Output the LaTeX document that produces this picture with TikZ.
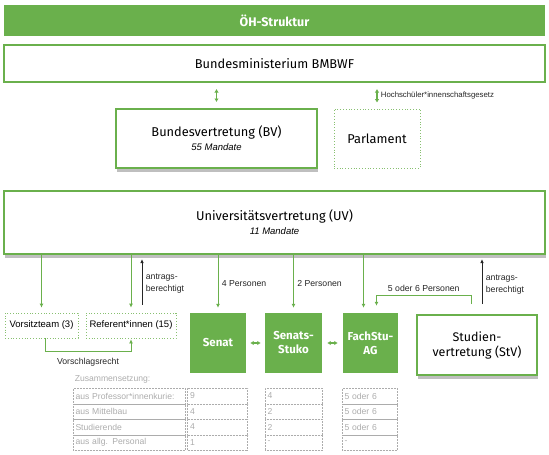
\documentclass[tikz,border=0pt]{standalone}
\usepackage{fontspec}
\setmainfont{Fira Sans}
\newfontfamily\arialfont{Liberation Sans}
\usetikzlibrary{arrows.meta, shadows}
\definecolor{oehgreen}{RGB}{106,176,76}
\definecolor{cellgray}{RGB}{172,172,172}

\begin{document}
\begin{tikzpicture}[x=1pt, y=-1pt,
  bar/.style={fill=oehgreen, text=white, font=\bfseries\fontsize{12.5}{15}\selectfont, inner sep=0pt},
  frame/.style={draw=oehgreen, line width=2pt, fill=white, inner sep=0pt, align=center, font=\fontsize{12.8}{15.5}\selectfont},
  shade/.style={drop shadow={shadow xshift=1pt, shadow yshift=-4pt, opacity=0.25, fill=black}},
  organ/.style={fill=oehgreen, text=white, inner sep=0pt, align=center, minimum height=60pt, font=\bfseries\fontsize{11.5}{14}\selectfont},
  dotbox/.style={draw=oehgreen!80, dotted, line width=0.8pt, inner sep=0pt, align=center},
  tag/.style={font=\arialfont\fontsize{8.7}{11.5}\selectfont, text=black!85, align=left},
  flow/.style={draw=oehgreen, line width=1pt, -{Latex[length=4pt, width=4pt]}},
  link/.style={draw=oehgreen, line width=1.1pt, {Latex[length=3.5pt, width=4.5pt]}-{Latex[length=3.5pt, width=4.5pt]}},
  back/.style={draw=black!85, line width=1pt, -{Latex[length=4pt, width=3.5pt]}},
  cell/.style={draw=cellgray, densely dotted, line width=0.5pt, minimum height=15.5pt, inner sep=2.5pt, align=left, text=cellgray, font=\arialfont\fontsize{8.6}{10}\selectfont}]

\useasboundingbox (0,0) rectangle (549,455);

% Bundesebene
\node[bar, minimum width=541pt, minimum height=31pt] (title) at (274.5,20.5) {ÖH-Struktur};
\node[frame, minimum width=541pt, minimum height=37pt] (bm) at (274.5,63.5) {Bundesministerium BMBWF};
\node[frame, shade, minimum width=201pt, minimum height=59pt] (bv) at (216.5,138.5) {Bundesvertretung (BV)\\[-1.5pt]{\arialfont\itshape\fontsize{9.5}{11}\selectfont 55 Mandate}};
\node[dotbox, minimum width=86pt, minimum height=59pt, font=\fontsize{12.8}{15.5}\selectfont] (parl) at (377,138.5) {Parlament};
\draw[link, shorten <=6pt, shorten >=6pt] (bm.south -| bv) -- (bv.north);
\draw[link, shorten <=6pt, shorten >=6pt] (bm.south -| parl) -- (parl.north) node[midway, right, tag, font=\arialfont\fontsize{7.8}{9}\selectfont] {Hochschüler*innenschaftsgesetz};

% Universitaet
\node[frame, shade, minimum width=541pt, minimum height=63pt] (uv) at (274.5,222.5) {Universitätsvertretung (UV)\\[-1.5pt]{\arialfont\itshape\fontsize{9.5}{11}\selectfont 11 Mandate}};
\node[dotbox, minimum width=73pt, minimum height=25pt, font=\arialfont\fontsize{9.5}{11}\selectfont] (vt) at (41.5,325.5) {Vorsitzteam (3)};
\node[dotbox, minimum width=90pt, minimum height=25pt, font=\arialfont\fontsize{9.5}{11}\selectfont] (ref) at (131,325.5) {Referent*innen (15)};
\node[organ, minimum width=56pt] (senat) at (218,343) {Senat};
\node[organ, minimum width=57pt] (stuko) at (293.5,343) {Senats-\\Stuko};
\node[organ, minimum width=55pt] (fach) at (370.5,343) {FachStu-\\AG};
\node[frame, shade, minimum width=120pt, minimum height=60pt, font=\fontsize{12.5}{15}\selectfont] (stv) at (477,345) {Studien-\\vertretung (StV)};

\draw[flow, shorten >=5pt] (uv.south -| vt) -- (vt.north);
\draw[flow, shorten >=5pt] (uv.south -| ref) -- (ref.north);
\draw[back, shorten <=8pt, shorten >=4pt] ([xshift=11pt]ref.north) -- ([xshift=11pt]ref.north |- uv.south) node[midway, right, tag] {antrags-\\berechtigt};
\draw[flow, shorten >=5pt] (uv.south -| senat) -- (senat.north) node[midway, right, tag] {4 Personen};
\draw[flow, shorten >=5pt] (uv.south -| stuko) -- (stuko.north) node[midway, right, tag] {2 Personen};
\draw[flow, shorten >=5pt] ([xshift=-7pt]uv.south -| fach) -- ([xshift=-7pt]fach.north);
\draw[flow] ([xshift=-6pt, yshift=10pt]stv.north) -- ([xshift=-6pt, yshift=19pt]stv.north) -| ([xshift=6pt, yshift=7pt]fach.north) node[pos=0.25, above, tag] {5 oder 6 Personen};
\draw[back, shorten <=10pt, shorten >=4pt] ([xshift=5pt]stv.north) -- ([xshift=5pt]stv.north |- uv.south) node[midway, right, tag] {antrags-\\berechtigt};
\draw[flow] ([xshift=3.5pt]vt.south) -- ++(0,13) -| ([yshift=-1pt]ref.south) node[pos=0.25, below=3pt, tag] {Vorschlagsrecht};
\draw[link, shorten <=4pt, shorten >=4pt] (senat) -- (stuko);
\draw[link, shorten <=5pt, shorten >=5pt] (stuko) -- (fach);

% Zusammensetzung
\node[cell, draw=none, anchor=west] (zus) at (72,379) {Zusammensetzung:};
\foreach \lab/\a/\b/\c [count=\i] in {aus Professor*innenkurie:/9/4/5 oder 6, aus Mittelbau/4/2/5 oder 6, Studierende/4/2/5 oder 6, aus allg. Personal/1/-/-}{
  \node[cell, text width=107pt] (k\i) at (129,380.5+15.5*\i) {\lab};
  \node[cell, text width=55pt] (s\i) at (217.5,380.5+15.5*\i) {\a};
  \node[cell, text width=52pt] (t\i) at (293.5,380.5+15.5*\i) {\b};
  \node[cell, text width=50pt] (f\i) at (369.5,380.5+15.5*\i) {\c};
}
\end{tikzpicture}
\end{document}
